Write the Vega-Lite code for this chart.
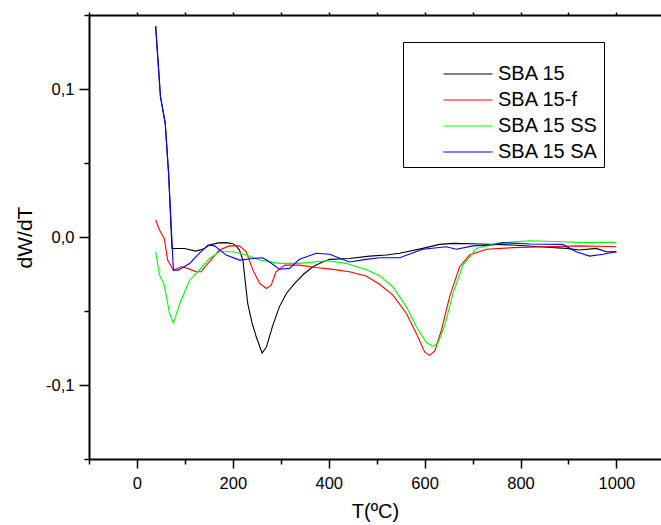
{
  "$schema": "https://vega.github.io/schema/vega-lite/v6.json",
  "width": 572,
  "height": 444,
  "autosize": "none",
  "padding": {"left": 89, "top": 15, "right": 0, "bottom": 66},
  "background": "white",
  "config": {"view": {"stroke": null}, "font": "Liberation Sans"},
  "data": {"values": [
    {"s": "SBA 15", "T": 39, "v": 0.1426}, {"s": "SBA 15", "T": 49, "v": 0.0949}, {"s": "SBA 15", "T": 59, "v": 0.0768}, {"s": "SBA 15", "T": 66, "v": 0.043}, {"s": "SBA 15", "T": 73, "v": -0.0077},
    {"s": "SBA 15", "T": 99, "v": -0.0078}, {"s": "SBA 15", "T": 123, "v": -0.0095}, {"s": "SBA 15", "T": 140, "v": -0.008}, {"s": "SBA 15", "T": 151, "v": -0.0054}, {"s": "SBA 15", "T": 170, "v": -0.004},
    {"s": "SBA 15", "T": 186, "v": -0.0038}, {"s": "SBA 15", "T": 200, "v": -0.0045}, {"s": "SBA 15", "T": 207, "v": -0.006}, {"s": "SBA 15", "T": 214, "v": -0.009}, {"s": "SBA 15", "T": 221, "v": -0.0156},
    {"s": "SBA 15", "T": 231, "v": -0.0449}, {"s": "SBA 15", "T": 240, "v": -0.058}, {"s": "SBA 15", "T": 249, "v": -0.0676}, {"s": "SBA 15", "T": 261, "v": -0.0784}, {"s": "SBA 15", "T": 270, "v": -0.0744},
    {"s": "SBA 15", "T": 283, "v": -0.06}, {"s": "SBA 15", "T": 297, "v": -0.0472}, {"s": "SBA 15", "T": 312, "v": -0.038}, {"s": "SBA 15", "T": 329, "v": -0.0314}, {"s": "SBA 15", "T": 348, "v": -0.025},
    {"s": "SBA 15", "T": 367, "v": -0.0201}, {"s": "SBA 15", "T": 385, "v": -0.0172}, {"s": "SBA 15", "T": 402, "v": -0.0151}, {"s": "SBA 15", "T": 443, "v": -0.0145}, {"s": "SBA 15", "T": 485, "v": -0.0129},
    {"s": "SBA 15", "T": 520, "v": -0.0122}, {"s": "SBA 15", "T": 548, "v": -0.011}, {"s": "SBA 15", "T": 596, "v": -0.0077}, {"s": "SBA 15", "T": 631, "v": -0.005}, {"s": "SBA 15", "T": 659, "v": -0.0043},
    {"s": "SBA 15", "T": 715, "v": -0.0047}, {"s": "SBA 15", "T": 784, "v": -0.0054}, {"s": "SBA 15", "T": 840, "v": -0.0066}, {"s": "SBA 15", "T": 896, "v": -0.0077}, {"s": "SBA 15", "T": 923, "v": -0.0088},
    {"s": "SBA 15", "T": 958, "v": -0.0077}, {"s": "SBA 15", "T": 979, "v": -0.01}, {"s": "SBA 15", "T": 1000, "v": -0.01},

    {"s": "SBA 15-f", "T": 39, "v": 0.0115}, {"s": "SBA 15-f", "T": 47, "v": 0.0047}, {"s": "SBA 15-f", "T": 57, "v": -0.001}, {"s": "SBA 15-f", "T": 64, "v": -0.0156}, {"s": "SBA 15-f", "T": 76, "v": -0.0224},
    {"s": "SBA 15-f", "T": 92, "v": -0.0201}, {"s": "SBA 15-f", "T": 106, "v": -0.0212}, {"s": "SBA 15-f", "T": 123, "v": -0.0235}, {"s": "SBA 15-f", "T": 134, "v": -0.0235}, {"s": "SBA 15-f", "T": 151, "v": -0.0167},
    {"s": "SBA 15-f", "T": 172, "v": -0.0088}, {"s": "SBA 15-f", "T": 193, "v": -0.006}, {"s": "SBA 15-f", "T": 214, "v": -0.006}, {"s": "SBA 15-f", "T": 228, "v": -0.01}, {"s": "SBA 15-f", "T": 242, "v": -0.0224},
    {"s": "SBA 15-f", "T": 256, "v": -0.0314}, {"s": "SBA 15-f", "T": 270, "v": -0.0348}, {"s": "SBA 15-f", "T": 280, "v": -0.0325}, {"s": "SBA 15-f", "T": 290, "v": -0.0235}, {"s": "SBA 15-f", "T": 308, "v": -0.019},
    {"s": "SBA 15-f", "T": 339, "v": -0.019}, {"s": "SBA 15-f", "T": 374, "v": -0.0206}, {"s": "SBA 15-f", "T": 409, "v": -0.0219}, {"s": "SBA 15-f", "T": 443, "v": -0.0235}, {"s": "SBA 15-f", "T": 478, "v": -0.0264},
    {"s": "SBA 15-f", "T": 506, "v": -0.0319}, {"s": "SBA 15-f", "T": 534, "v": -0.0393}, {"s": "SBA 15-f", "T": 562, "v": -0.0517}, {"s": "SBA 15-f", "T": 583, "v": -0.0653}, {"s": "SBA 15-f", "T": 600, "v": -0.0777},
    {"s": "SBA 15-f", "T": 610, "v": -0.08}, {"s": "SBA 15-f", "T": 621, "v": -0.0771}, {"s": "SBA 15-f", "T": 635, "v": -0.063}, {"s": "SBA 15-f", "T": 652, "v": -0.0405}, {"s": "SBA 15-f", "T": 673, "v": -0.0201},
    {"s": "SBA 15-f", "T": 694, "v": -0.0122}, {"s": "SBA 15-f", "T": 729, "v": -0.0083}, {"s": "SBA 15-f", "T": 784, "v": -0.0072}, {"s": "SBA 15-f", "T": 854, "v": -0.0066}, {"s": "SBA 15-f", "T": 923, "v": -0.006},
    {"s": "SBA 15-f", "T": 960, "v": -0.0063}, {"s": "SBA 15-f", "T": 1000, "v": -0.0066},

    {"s": "SBA 15 SS", "T": 39, "v": -0.01}, {"s": "SBA 15 SS", "T": 47, "v": -0.0258}, {"s": "SBA 15 SS", "T": 57, "v": -0.0325}, {"s": "SBA 15 SS", "T": 68, "v": -0.0517}, {"s": "SBA 15 SS", "T": 76, "v": -0.0581},
    {"s": "SBA 15 SS", "T": 92, "v": -0.0427}, {"s": "SBA 15 SS", "T": 110, "v": -0.0292}, {"s": "SBA 15 SS", "T": 130, "v": -0.0224}, {"s": "SBA 15 SS", "T": 151, "v": -0.0145}, {"s": "SBA 15 SS", "T": 172, "v": -0.01},
    {"s": "SBA 15 SS", "T": 200, "v": -0.01}, {"s": "SBA 15 SS", "T": 228, "v": -0.0122}, {"s": "SBA 15 SS", "T": 256, "v": -0.0156}, {"s": "SBA 15 SS", "T": 297, "v": -0.0178}, {"s": "SBA 15 SS", "T": 339, "v": -0.0178},
    {"s": "SBA 15 SS", "T": 395, "v": -0.016}, {"s": "SBA 15 SS", "T": 436, "v": -0.0178}, {"s": "SBA 15 SS", "T": 478, "v": -0.0219}, {"s": "SBA 15 SS", "T": 506, "v": -0.0261}, {"s": "SBA 15 SS", "T": 534, "v": -0.0337},
    {"s": "SBA 15 SS", "T": 562, "v": -0.0472}, {"s": "SBA 15 SS", "T": 583, "v": -0.0608}, {"s": "SBA 15 SS", "T": 603, "v": -0.071}, {"s": "SBA 15 SS", "T": 617, "v": -0.0739}, {"s": "SBA 15 SS", "T": 628, "v": -0.0716},
    {"s": "SBA 15 SS", "T": 642, "v": -0.0597}, {"s": "SBA 15 SS", "T": 659, "v": -0.0382}, {"s": "SBA 15 SS", "T": 680, "v": -0.019}, {"s": "SBA 15 SS", "T": 708, "v": -0.0077}, {"s": "SBA 15 SS", "T": 749, "v": -0.0043},
    {"s": "SBA 15 SS", "T": 819, "v": -0.0025}, {"s": "SBA 15 SS", "T": 888, "v": -0.0032}, {"s": "SBA 15 SS", "T": 937, "v": -0.0038}, {"s": "SBA 15 SS", "T": 1000, "v": -0.0036},

    {"s": "SBA 15 SA", "T": 39, "v": 0.1426}, {"s": "SBA 15 SA", "T": 49, "v": 0.0949}, {"s": "SBA 15 SA", "T": 59, "v": 0.0768}, {"s": "SBA 15 SA", "T": 66, "v": 0.043}, {"s": "SBA 15 SA", "T": 76, "v": -0.0224},
    {"s": "SBA 15 SA", "T": 86, "v": -0.0224}, {"s": "SBA 15 SA", "T": 110, "v": -0.0179}, {"s": "SBA 15 SA", "T": 130, "v": -0.011}, {"s": "SBA 15 SA", "T": 148, "v": -0.0054}, {"s": "SBA 15 SA", "T": 162, "v": -0.006},
    {"s": "SBA 15 SA", "T": 186, "v": -0.0122}, {"s": "SBA 15 SA", "T": 214, "v": -0.0156}, {"s": "SBA 15 SA", "T": 242, "v": -0.0145}, {"s": "SBA 15 SA", "T": 262, "v": -0.014}, {"s": "SBA 15 SA", "T": 276, "v": -0.0167},
    {"s": "SBA 15 SA", "T": 297, "v": -0.0218}, {"s": "SBA 15 SA", "T": 318, "v": -0.0212}, {"s": "SBA 15 SA", "T": 339, "v": -0.0151}, {"s": "SBA 15 SA", "T": 374, "v": -0.011}, {"s": "SBA 15 SA", "T": 402, "v": -0.0117},
    {"s": "SBA 15 SA", "T": 443, "v": -0.0169}, {"s": "SBA 15 SA", "T": 478, "v": -0.0151}, {"s": "SBA 15 SA", "T": 506, "v": -0.014}, {"s": "SBA 15 SA", "T": 548, "v": -0.014}, {"s": "SBA 15 SA", "T": 596, "v": -0.0083},
    {"s": "SBA 15 SA", "T": 645, "v": -0.0066}, {"s": "SBA 15 SA", "T": 666, "v": -0.0083}, {"s": "SBA 15 SA", "T": 701, "v": -0.006}, {"s": "SBA 15 SA", "T": 742, "v": -0.0054}, {"s": "SBA 15 SA", "T": 763, "v": -0.0038},
    {"s": "SBA 15 SA", "T": 819, "v": -0.0047}, {"s": "SBA 15 SA", "T": 888, "v": -0.005}, {"s": "SBA 15 SA", "T": 916, "v": -0.01}, {"s": "SBA 15 SA", "T": 944, "v": -0.0129}, {"s": "SBA 15 SA", "T": 972, "v": -0.0117},
    {"s": "SBA 15 SA", "T": 1000, "v": -0.01}
  ]},
  "layer": [
    {
      "mark": {"type": "line", "strokeWidth": 1.1, "clip": true},
      "encoding": {
        "x": {
          "field": "T", "type": "quantitative",
          "scale": {"domain": [-100, 1093], "nice": false, "zero": false},
          "axis": {
            "orient": "bottom",
            "values": [-100, 0, 100, 200, 300, 400, 500, 600, 700, 800, 900, 1000],
            "format": "d",
            "labelExpr": "datum.value % 200 == 0 ? datum.label : ''",
            "labelFont": "Liberation Sans", "labelFontSize": 16.5, "labelColor": "black",
            "labelPadding": 7, "labelFlush": false, "labelOverlap": false,
            "tickSize": {"condition": {"test": "datum.value % 200 == 0", "value": 9}, "value": 5},
            "tickColor": "black", "tickWidth": 1.5,
            "domainColor": "black", "domainWidth": 2,
            "grid": false,
            "title": "T(ºC)", "titleFont": "Liberation Sans", "titleFontSize": 20, "titleFontWeight": "normal", "titleColor": "black", "titlePadding": 10
          }
        },
        "y": {
          "field": "v", "type": "quantitative",
          "scale": {"domain": [-0.15, 0.15], "nice": false, "zero": false},
          "axis": {
            "orient": "left",
            "values": [-0.15, -0.1, -0.05, 0, 0.05, 0.1, 0.15],
            "labelExpr": "round(datum.value*20) % 2 == 0 ? (datum.value < -0.000001 ? '-' : '') + replace(format(abs(datum.value), '.1f'), '.', ',') : ''",
            "labelFont": "Liberation Sans", "labelFontSize": 16.5, "labelColor": "black",
            "labelPadding": 5, "labelFlush": false, "labelOverlap": false,
            "tickSize": {"condition": {"test": "round(datum.value*20) % 2 == 0", "value": 10}, "value": 5},
            "tickColor": "black", "tickWidth": 1.5,
            "domainColor": "black", "domainWidth": 2,
            "grid": false,
            "title": "dW/dT", "titleFont": "Liberation Sans", "titleFontSize": 21, "titleFontWeight": "normal", "titleColor": "black", "titlePadding": 10
          }
        },
        "color": {
          "field": "s", "type": "nominal",
          "scale": {"domain": ["SBA 15", "SBA 15-f", "SBA 15 SS", "SBA 15 SA"], "range": ["#000000", "#ff0000", "#00ff00", "#0000ff"]},
          "legend": {
            "orient": "none", "legendX": 314, "legendY": 27,
            "title": "\u2800",
            "titleFont": "DejaVu Sans", "titleFontSize": 12, "titlePadding": 5,
            "padding": 5, "strokeColor": "black", "fillColor": "white",
            "symbolType": "stroke", "symbolSize": 2401, "symbolStrokeWidth": 1, "symbolOffset": 35,
            "labelFont": "Liberation Sans", "labelFontSize": 20, "labelColor": "black", "labelOffset": 5, "labelLimit": 300,
            "clipHeight": 20, "rowPadding": 6
          }
        }
      }
    },
    {
      "mark": {"type": "point", "opacity": 0},
      "encoding": {
        "x": {
          "field": "T", "type": "quantitative",
          "axis": {
            "orient": "top",
            "values": [-100, 0, 100, 200, 300, 400, 500, 600, 700, 800, 900, 1000],
            "labels": false, "title": null, "grid": false,
            "tickSize": 3, "tickColor": "black", "tickWidth": 1.5,
            "domainColor": "black", "domainWidth": 2
          }
        },
        "y": {"field": "v", "type": "quantitative", "axis": null}
      }
    }
  ],
  "resolve": {"axis": {"x": "independent", "y": "independent"}}
}
